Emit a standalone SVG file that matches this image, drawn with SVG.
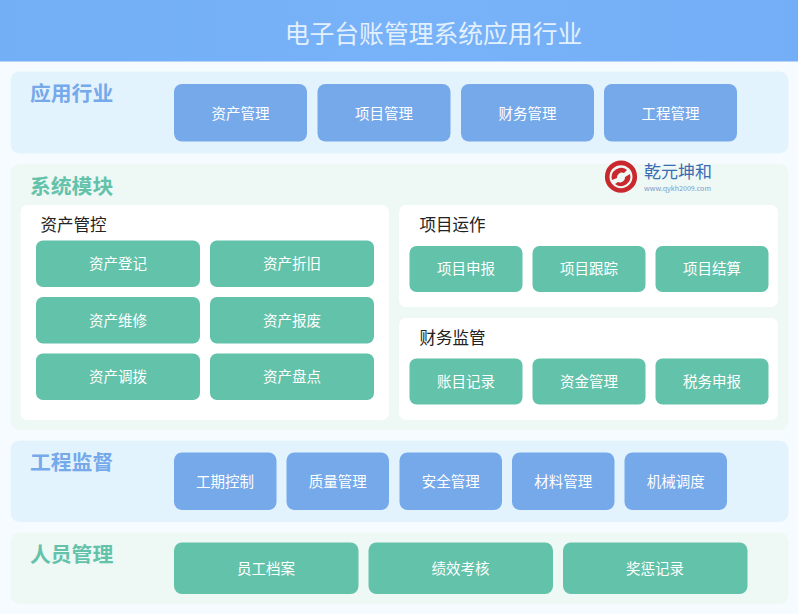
<svg xmlns="http://www.w3.org/2000/svg" width="798" height="614" viewBox="0 0 798 614">
<style>
text{font-family:"Noto Sans CJK SC","Noto Sans",sans-serif}
.t{font-size:14.500px;fill:#fff;text-anchor:middle;dominant-baseline:central}
.h{font-size:20.800px;font-weight:700;dominant-baseline:central}
.s{font-size:16.500px;fill:#222;dominant-baseline:central}
.b{fill:#75a9ea}
.g{fill:#63c2aa}
.pb{fill:#e3f3fe}
.pg{fill:#eef8f4}
.w{fill:#fff}
</style>
<defs>
<linearGradient id="hd" x1="0" x2="1" y1="0" y2="0"><stop offset="0" stop-color="#72aff5"/><stop offset=".5" stop-color="#78b2f8"/><stop offset="1" stop-color="#74aef6"/></linearGradient>
</defs>
<rect width="798" height="614" fill="#f5fbfe"/>
<g id="header"><rect width="798" height="61.500" fill="url(#hd)"/><text x="433.500" y="32" font-size="24.800" fill="#e3f0fd" text-anchor="middle" dominant-baseline="central">电子台账管理系统应用行业</text></g>
<g id="panel-apply"><rect class="pb" x="10.500" y="71.500" width="778" height="82" rx="9"/><text class="h" x="30" y="92" fill="#75a9ea">应用行业</text></g>
<g id="n-asset"><rect class="b" x="174" y="84" width="133" height="57.500" rx="8"/><text class="t" x="240.500" y="112">资产管理</text></g>
<g id="n-project"><rect class="b" x="317.500" y="84" width="133" height="57.500" rx="8"/><text class="t" x="384" y="112">项目管理</text></g>
<g id="n-finance"><rect class="b" x="461" y="84" width="133" height="57.500" rx="8"/><text class="t" x="527.500" y="112">财务管理</text></g>
<g id="n-eng"><rect class="b" x="604" y="84" width="133" height="57.500" rx="8"/><text class="t" x="670.500" y="112">工程管理</text></g>
<g id="panel-system"><rect class="pg" x="10.500" y="164" width="778" height="266" rx="9"/><text class="h" x="30" y="185" fill="#63c2aa">系统模块</text></g>
<g id="logo">
<circle cx="621" cy="176.700" r="13.800" fill="none" stroke="#c9282e" stroke-width="4.600"/>
<path d="M612 180a9.500 9.500 0 0 1 15-10l-3 3a5 5 0 0 0-7 5z" fill="#c9282e"/>
<path d="M630 174a9.500 9.500 0 0 1-15 10l3-2a5 5 0 0 0 7-5z" fill="#c9282e"/>
<text x="644" y="170.500" font-size="17" fill="#3b6cb3" dominant-baseline="central">乾元坤和</text>
<text x="644" y="187.600" font-size="6.500" fill="#7a9bcb" dominant-baseline="central" textLength="67" lengthAdjust="spacingAndGlyphs">www.qykh2009.com</text>
</g>
<g id="panel-assetctl"><rect class="w" x="20.500" y="205" width="368.500" height="215" rx="7"/><text class="s" x="40.500" y="224">资产管控</text></g>
<g id="a1"><rect class="g" x="36" y="240.500" width="164" height="46.500" rx="7"/><text class="t" x="118" y="262">资产登记</text></g>
<g id="a2"><rect class="g" x="210" y="240.500" width="164" height="46.500" rx="7"/><text class="t" x="292" y="262">资产折旧</text></g>
<g id="a3"><rect class="g" x="36" y="297" width="164" height="46.500" rx="7"/><text class="t" x="118" y="319">资产维修</text></g>
<g id="a4"><rect class="g" x="210" y="297" width="164" height="46.500" rx="7"/><text class="t" x="292" y="319">资产报废</text></g>
<g id="a5"><rect class="g" x="36" y="353.500" width="164" height="46.500" rx="7"/><text class="t" x="118" y="375">资产调拨</text></g>
<g id="a6"><rect class="g" x="210" y="353.500" width="164" height="46.500" rx="7"/><text class="t" x="292" y="375">资产盘点</text></g>
<g id="panel-projop"><rect class="w" x="399" y="205" width="379" height="102" rx="7"/><text class="s" x="419.500" y="224">项目运作</text></g>
<g id="p1"><rect class="g" x="409.500" y="246" width="113" height="46" rx="7"/><text class="t" x="466" y="267">项目申报</text></g>
<g id="p2"><rect class="g" x="532.500" y="246" width="113" height="46" rx="7"/><text class="t" x="589" y="267">项目跟踪</text></g>
<g id="p3"><rect class="g" x="655.500" y="246" width="113" height="46" rx="7"/><text class="t" x="712" y="267">项目结算</text></g>
<g id="panel-finmon"><rect class="w" x="399" y="318" width="379" height="102" rx="7"/><text class="s" x="419.500" y="337">财务监管</text></g>
<g id="f1"><rect class="g" x="409.500" y="358.500" width="113" height="46" rx="7"/><text class="t" x="466" y="380">账目记录</text></g>
<g id="f2"><rect class="g" x="532.500" y="358.500" width="113" height="46" rx="7"/><text class="t" x="589" y="380">资金管理</text></g>
<g id="f3"><rect class="g" x="655.500" y="358.500" width="113" height="46" rx="7"/><text class="t" x="712" y="380">税务申报</text></g>
<g id="panel-eng"><rect class="pb" x="10.500" y="440.500" width="778" height="81.500" rx="9"/><text class="h" x="30" y="461" fill="#75a9ea">工程监督</text></g>
<g id="e1"><rect class="b" x="174" y="452.500" width="102.500" height="57.500" rx="8"/><text class="t" x="225" y="480">工期控制</text></g>
<g id="e2"><rect class="b" x="286.500" y="452.500" width="102.500" height="57.500" rx="8"/><text class="t" x="337.750" y="480">质量管理</text></g>
<g id="e3"><rect class="b" x="399.500" y="452.500" width="102.500" height="57.500" rx="8"/><text class="t" x="450.750" y="480">安全管理</text></g>
<g id="e4"><rect class="b" x="512" y="452.500" width="102.500" height="57.500" rx="8"/><text class="t" x="563.250" y="480">材料管理</text></g>
<g id="e5"><rect class="b" x="624.500" y="452.500" width="102.500" height="57.500" rx="8"/><text class="t" x="675.750" y="480">机械调度</text></g>
<g id="panel-hr"><rect class="pg" x="10.500" y="532.500" width="778" height="71.500" rx="9"/><text class="h" x="30" y="553" fill="#63c2aa">人员管理</text></g>
<g id="h1"><rect class="g" x="174" y="542.500" width="184.500" height="51.500" rx="8"/><text class="t" x="266" y="567">员工档案</text></g>
<g id="h2"><rect class="g" x="368.500" y="542.500" width="184.500" height="51.500" rx="8"/><text class="t" x="460.500" y="567">绩效考核</text></g>
<g id="h3"><rect class="g" x="563" y="542.500" width="184.500" height="51.500" rx="8"/><text class="t" x="655" y="567">奖惩记录</text></g>
<g id="connectors"></g>
</svg>
